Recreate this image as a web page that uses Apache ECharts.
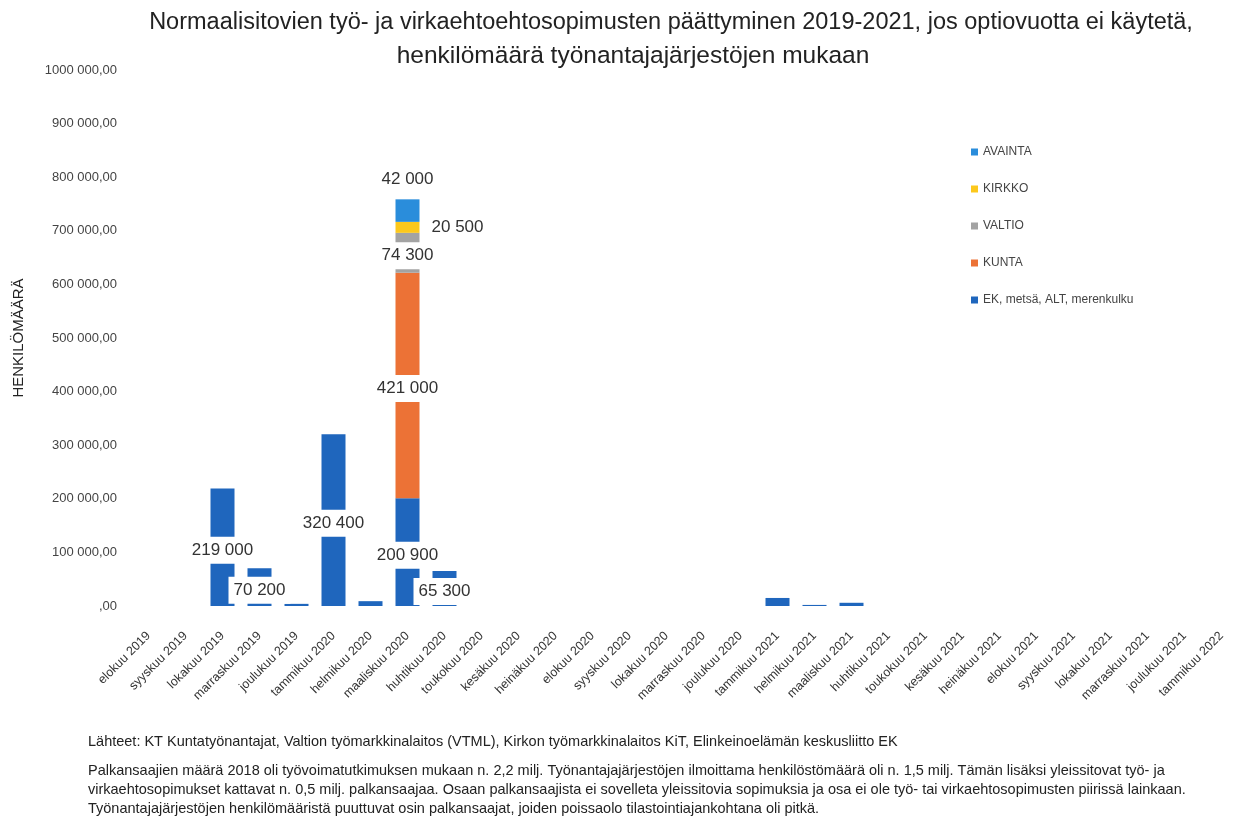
<!DOCTYPE html>
<html>
<head>
<meta charset="utf-8">
<script src="https://cdn.jsdelivr.net/npm/echarts@6/dist/echarts.min.js"></script>
<style>
  html, body { margin: 0; padding: 0; background: #fff; }
  #main { width: 1240px; height: 818px; }
</style>
</head>
<body>
<div id="main"></div>
<script>
// kuukaudet x-akselilla
var months = [
  'elokuu 2019', 'syyskuu 2019', 'lokakuu 2019', 'marraskuu 2019', 'joulukuu 2019',
  'tammikuu 2020', 'helmikuu 2020', 'maaliskuu 2020', 'huhtikuu 2020', 'toukokuu 2020',
  'kesäkuu 2020', 'heinäkuu 2020', 'elokuu 2020', 'syyskuu 2020', 'lokakuu 2020',
  'marraskuu 2020', 'joulukuu 2020', 'tammikuu 2021', 'helmikuu 2021', 'maaliskuu 2021',
  'huhtikuu 2021', 'toukokuu 2021', 'kesäkuu 2021', 'heinäkuu 2021', 'elokuu 2021',
  'syyskuu 2021', 'lokakuu 2021', 'marraskuu 2021', 'joulukuu 2021', 'tammikuu 2022'
];

// henkilömäärät järjestöittäin
var ek      = [0, 0, 219000, 70200, 4000, 320400, 9000, 200900, 65300, 0, 0, 0, 0, 0, 0, 0, 0, 15000, 2000, 6000, 0, 0, 0, 0, 0, 0, 0, 0, 0, 0];
var kunta   = [0, 0, 0, 0, 0, 0, 0, 421000, 0, 0, 0, 0, 0, 0, 0, 0, 0, 0, 0, 0, 0, 0, 0, 0, 0, 0, 0, 0, 0, 0];
var valtio  = [0, 0, 0, 0, 0, 0, 0, 74300, 0, 0, 0, 0, 0, 0, 0, 0, 0, 0, 0, 0, 0, 0, 0, 0, 0, 0, 0, 0, 0, 0];
var kirkko  = [0, 0, 0, 0, 0, 0, 0, 20500, 0, 0, 0, 0, 0, 0, 0, 0, 0, 0, 0, 0, 0, 0, 0, 0, 0, 0, 0, 0, 0, 0];
var avainta = [0, 0, 0, 0, 0, 0, 0, 42000, 0, 0, 0, 0, 0, 0, 0, 0, 0, 0, 0, 0, 0, 0, 0, 0, 0, 0, 0, 0, 0, 0];

// y-akselin tekstit
var yTicks = [',00', '100 000,00', '200 000,00', '300 000,00', '400 000,00', '500 000,00',
  '600 000,00', '700 000,00', '800 000,00', '900 000,00', '1000 000,00'];

var FONT = "'Liberation Sans', Arial, sans-serif";

function fmt(v) {
  return String(v).replace(/\B(?=(\d{3})+(?!\d))/g, ' ');
}

function makeData(arr) {
  return arr.map(function (v) {
    return { value: v, label: { show: v >= 20000 } };
  });
}

function barLabel(pos, dist) {
  var inside = pos === 'inside';
  return {
    position: pos,
    distance: dist,
    offset: inside ? [0, 3] : [0, 0],
    color: '#333',
    fontSize: 17,
    fontFamily: FONT,
    backgroundColor: inside ? '#fff' : 'transparent',
    padding: [5, 5],
    formatter: function (p) { return fmt(p.value); }
  };
}

var chartDom = document.getElementById('main');
var myChart = echarts.init(chartDom);
var option;

option = {
  animation: false,
  backgroundColor: '#fff',
  title: [{
    text: 'Normaalisitovien työ- ja virkaehtoehtosopimusten päättyminen 2019-2021, jos optiovuotta ei käytetä,',
    left: 666, top: 6, textAlign: 'center',
    textStyle: { fontSize: 23.5, fontWeight: 'normal', color: '#222', fontFamily: FONT }
  }, {
    text: 'henkilömäärä työnantajajärjestöjen mukaan',
    left: 628, top: 39, textAlign: 'center',
    textStyle: { fontSize: 24.5, fontWeight: 'normal', color: '#222', fontFamily: FONT }
  }],
  legend: {
    orient: 'vertical',
    left: 966,
    top: 141,
    itemWidth: 7,
    itemHeight: 7,
    itemGap: 25,
    icon: 'rect',
    textStyle: { fontSize: 12, color: '#444', fontFamily: FONT },
    data: ['AVAINTA', 'KIRKKO', 'VALTIO', 'KUNTA', 'EK, metsä, ALT, merenkulku']
  },
  grid: {
    left: 130,
    top: 70,
    width: 1128,
    bottom: 212,
    containLabel: false
  },
  xAxis: {
    type: 'category',
    data: months,
    axisLine: { show: false },
    axisTick: { show: false },
    axisLabel: {
      interval: 0,
      rotate: 45,
      margin: 28,
      fontSize: 12.5,
      color: '#333',
      fontFamily: FONT
    }
  },
  yAxis: {
    type: 'value',
    min: 0,
    max: 1000000,
    interval: 100000,
    name: 'HENKILÖMÄÄRÄ',
    nameLocation: 'middle',
    nameRotate: 90,
    nameGap: 104,
    nameTextStyle: { fontSize: 15, color: '#222', fontFamily: FONT },
    axisLine: { show: false },
    axisTick: { show: false },
    splitLine: { show: false },
    axisLabel: {
      margin: 13,
      fontSize: 13,
      color: '#444',
      fontFamily: FONT,
      formatter: function (v) { return yTicks[Math.round(v / 100000)]; }
    }
  },
  series: [{
    name: 'EK, metsä, ALT, merenkulku',
    type: 'bar', stack: 'yht', barWidth: 24,
    itemStyle: { color: '#1f66bd' },
    label: barLabel('inside', 0),
    data: makeData(ek)
  }, {
    name: 'KUNTA',
    type: 'bar', stack: 'yht', barWidth: 24,
    itemStyle: { color: '#ec7236' },
    label: barLabel('inside', 0),
    data: makeData(kunta)
  }, {
    name: 'VALTIO',
    type: 'bar', stack: 'yht', barWidth: 24,
    itemStyle: { color: '#a3a3a3' },
    label: barLabel('inside', 0),
    data: makeData(valtio)
  }, {
    name: 'KIRKKO',
    type: 'bar', stack: 'yht', barWidth: 24,
    itemStyle: { color: '#fcc81c' },
    label: barLabel('right', 7),
    data: makeData(kirkko)
  }, {
    name: 'AVAINTA',
    type: 'bar', stack: 'yht', barWidth: 24,
    itemStyle: { color: '#2a8ddb' },
    label: barLabel('top', 7),
    data: makeData(avainta)
  }],
  graphic: [{
    type: 'text', left: 88, top: 734,
    style: {
      text: 'Lähteet: KT Kuntatyönantajat, Valtion työmarkkinalaitos (VTML), Kirkon työmarkkinalaitos KiT, Elinkeinoelämän keskusliitto EK',
      fontSize: 14.5, fill: '#222', fontFamily: FONT
    }
  }, {
    type: 'text', left: 88, top: 761,
    style: {
      text: 'Palkansaajien määrä 2018 oli työvoimatutkimuksen mukaan n. 2,2 milj. Työnantajajärjestöjen ilmoittama henkilöstömäärä oli n. 1,5 milj. Tämän lisäksi yleissitovat työ- ja\n' +
        'virkaehtosopimukset kattavat n. 0,5 milj. palkansaajaa. Osaan palkansaajista ei sovelleta yleissitovia sopimuksia ja osa ei ole työ- tai virkaehtosopimusten piirissä lainkaan.\n' +
        'Työnantajajärjestöjen henkilömääristä puuttuvat osin palkansaajat, joiden poissaolo tilastointiajankohtana oli pitkä.',
      fontSize: 14.5, lineHeight: 19, fill: '#222', fontFamily: FONT
    }
  }]
};

option && myChart.setOption(option);
window.addEventListener('resize', function () {
  myChart.resize();
});
</script>
</body>
</html>
